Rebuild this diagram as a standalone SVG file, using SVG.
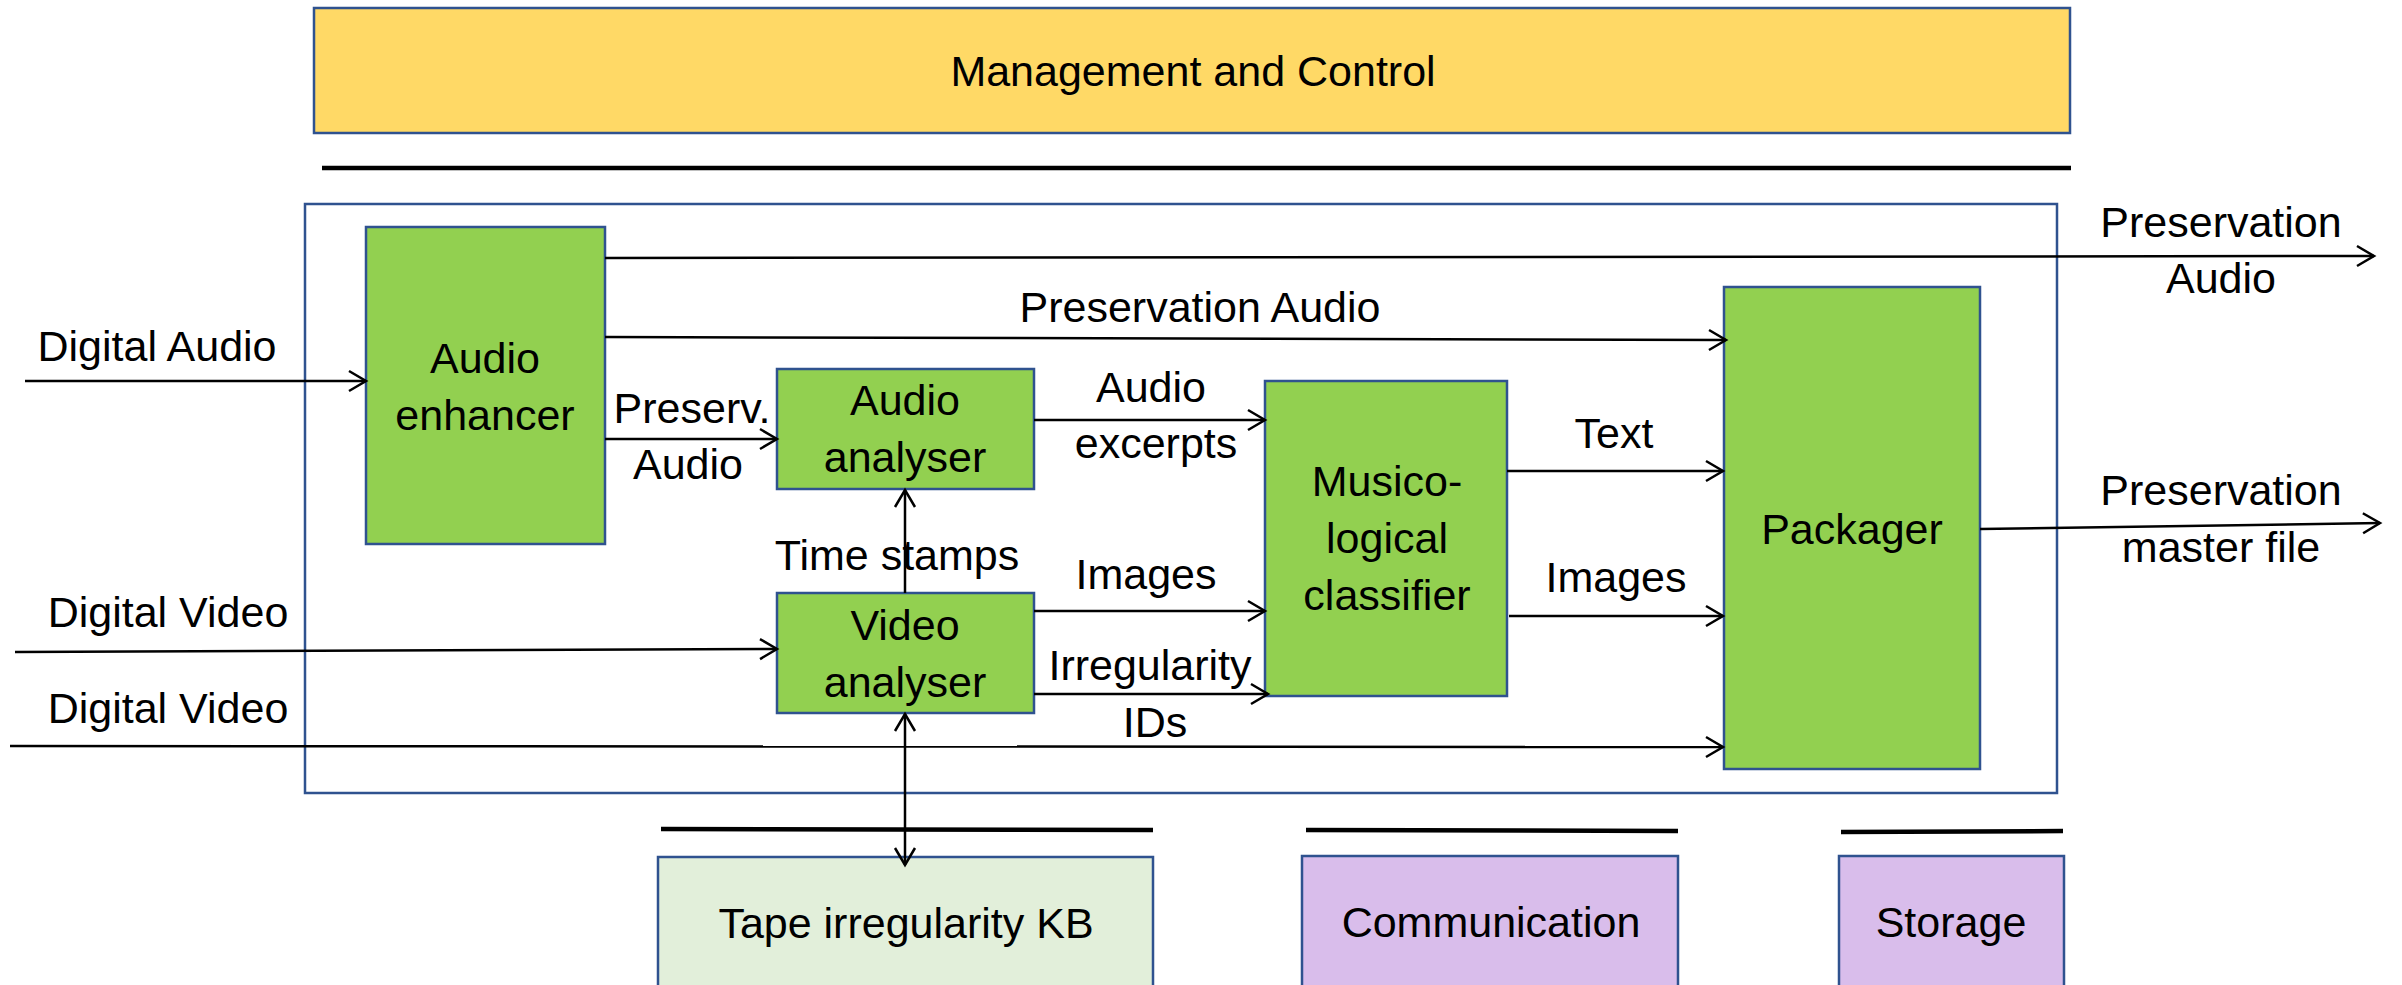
<svg xmlns="http://www.w3.org/2000/svg" width="2402" height="985" viewBox="0 0 2402 985">
<style>
text{font-family:"Liberation Sans",Arial,sans-serif;font-size:43px;fill:#000;text-anchor:middle}
.box{stroke:#2F528F;stroke-width:2.5}
.green{fill:#92D050}
.gold{fill:#FFD966}
.lgreen{fill:#E2EFDA}
.purple{fill:#D9BDEB}
.sep{stroke:#000;stroke-width:4.5}
.conn{stroke:#000;stroke-width:2.5;fill:none}
</style>
<defs>
<marker id="arr" markerUnits="userSpaceOnUse" markerWidth="24" markerHeight="24" viewBox="-20 -12 24 24" refX="0" refY="0" orient="auto-start-reverse">
<path d="M-17,-10 L0,0 L-17,10" fill="none" stroke="#000" stroke-width="2.5"/>
</marker>
</defs>
<rect width="2402" height="985" fill="#fff"/>

<g id="management">
<rect class="box gold" x="314" y="8" width="1756" height="125"/>
<text x="1193" y="86">Management and Control</text>
</g>
<g id="separators">
<line class="sep" x1="322" y1="168" x2="2071" y2="168"/>
<line class="sep" x1="661" y1="829" x2="1153" y2="830"/>
<line class="sep" x1="1306" y1="830" x2="1678" y2="831"/>
<line class="sep" x1="1841" y1="832" x2="2063" y2="831"/>
</g>
<g id="container">
<rect x="305" y="204" width="1752" height="589" fill="none" stroke="#2F528F" stroke-width="2.5"/>
</g>

<g id="audio-enhancer">
<rect class="box green" x="366" y="227" width="239" height="317"/>
<text x="485" y="373">Audio</text>
<text x="485" y="430">enhancer</text>
</g>
<g id="audio-analyser">
<rect class="box green" x="777" y="369" width="257" height="120"/>
<text x="905" y="415">Audio</text>
<text x="905" y="472">analyser</text>
</g>
<g id="video-analyser">
<rect class="box green" x="777" y="593" width="257" height="120"/>
<text x="905" y="640">Video</text>
<text x="905" y="697">analyser</text>
</g>
<g id="musicological-classifier">
<rect class="box green" x="1265" y="381" width="242" height="315"/>
<text x="1387" y="496">Musico-</text>
<text x="1387" y="553">logical</text>
<text x="1387" y="610">classifier</text>
</g>
<g id="packager">
<rect class="box green" x="1724" y="287" width="256" height="482"/>
<text x="1852" y="544">Packager</text>
</g>
<g id="tape-kb">
<rect class="box lgreen" x="658" y="857" width="495" height="140"/>
<text x="906" y="938">Tape irregularity KB</text>
</g>
<g id="communication">
<rect class="box purple" x="1302" y="856" width="376" height="140"/>
<text x="1491" y="937">Communication</text>
</g>
<g id="storage">
<rect class="box purple" x="1839" y="856" width="225" height="140"/>
<text x="1951" y="937">Storage</text>
</g>

<g id="connectors">
<path class="conn" d="M25,381 H366" marker-end="url(#arr)"/>
<path class="conn" d="M605,258 L2374,256" marker-end="url(#arr)"/>
<path class="conn" d="M605,337 L1726,340" marker-end="url(#arr)"/>
<path class="conn" d="M605,439 H777" marker-end="url(#arr)"/>
<path class="conn" d="M1034,420 H1265" marker-end="url(#arr)"/>
<path class="conn" d="M905,593 V490" marker-end="url(#arr)"/>
<path class="conn" d="M1034,611 H1265" marker-end="url(#arr)"/>
<path class="conn" d="M1034,694 H1268" marker-end="url(#arr)"/>
<path class="conn" d="M1507,471 H1723" marker-end="url(#arr)"/>
<path class="conn" d="M1509,616 H1723" marker-end="url(#arr)"/>
<path class="conn" d="M1980,529 L2380,523" marker-end="url(#arr)"/>
<path class="conn" d="M15,652 L777,649" marker-end="url(#arr)"/>
<path class="conn" d="M10,746 L1723,747" marker-end="url(#arr)"/>
<path class="conn" d="M905,714 V865" marker-start="url(#arr)" marker-end="url(#arr)"/>
</g>

<g id="labels">
<text x="157" y="361">Digital Audio</text>
<text x="692" y="423">Preserv.</text>
<text x="688" y="479">Audio</text>
<text x="1200" y="322">Preservation Audio</text>
<text x="1151" y="402">Audio</text>
<text x="1156" y="458">excerpts</text>
<text x="897" y="570">Time stamps</text>
<text x="1146" y="589">Images</text>
<text x="1150" y="680">Irregularity</text>
<text x="1155" y="737">IDs</text>
<text x="1614" y="448">Text</text>
<text x="1616" y="592">Images</text>
<text x="2221" y="237">Preservation</text>
<text x="2221" y="293">Audio</text>
<text x="2221" y="505">Preservation</text>
<text x="2221" y="562">master file</text>
<text x="168" y="627">Digital Video</text>
<text x="168" y="723">Digital Video</text>
</g>
</svg>
